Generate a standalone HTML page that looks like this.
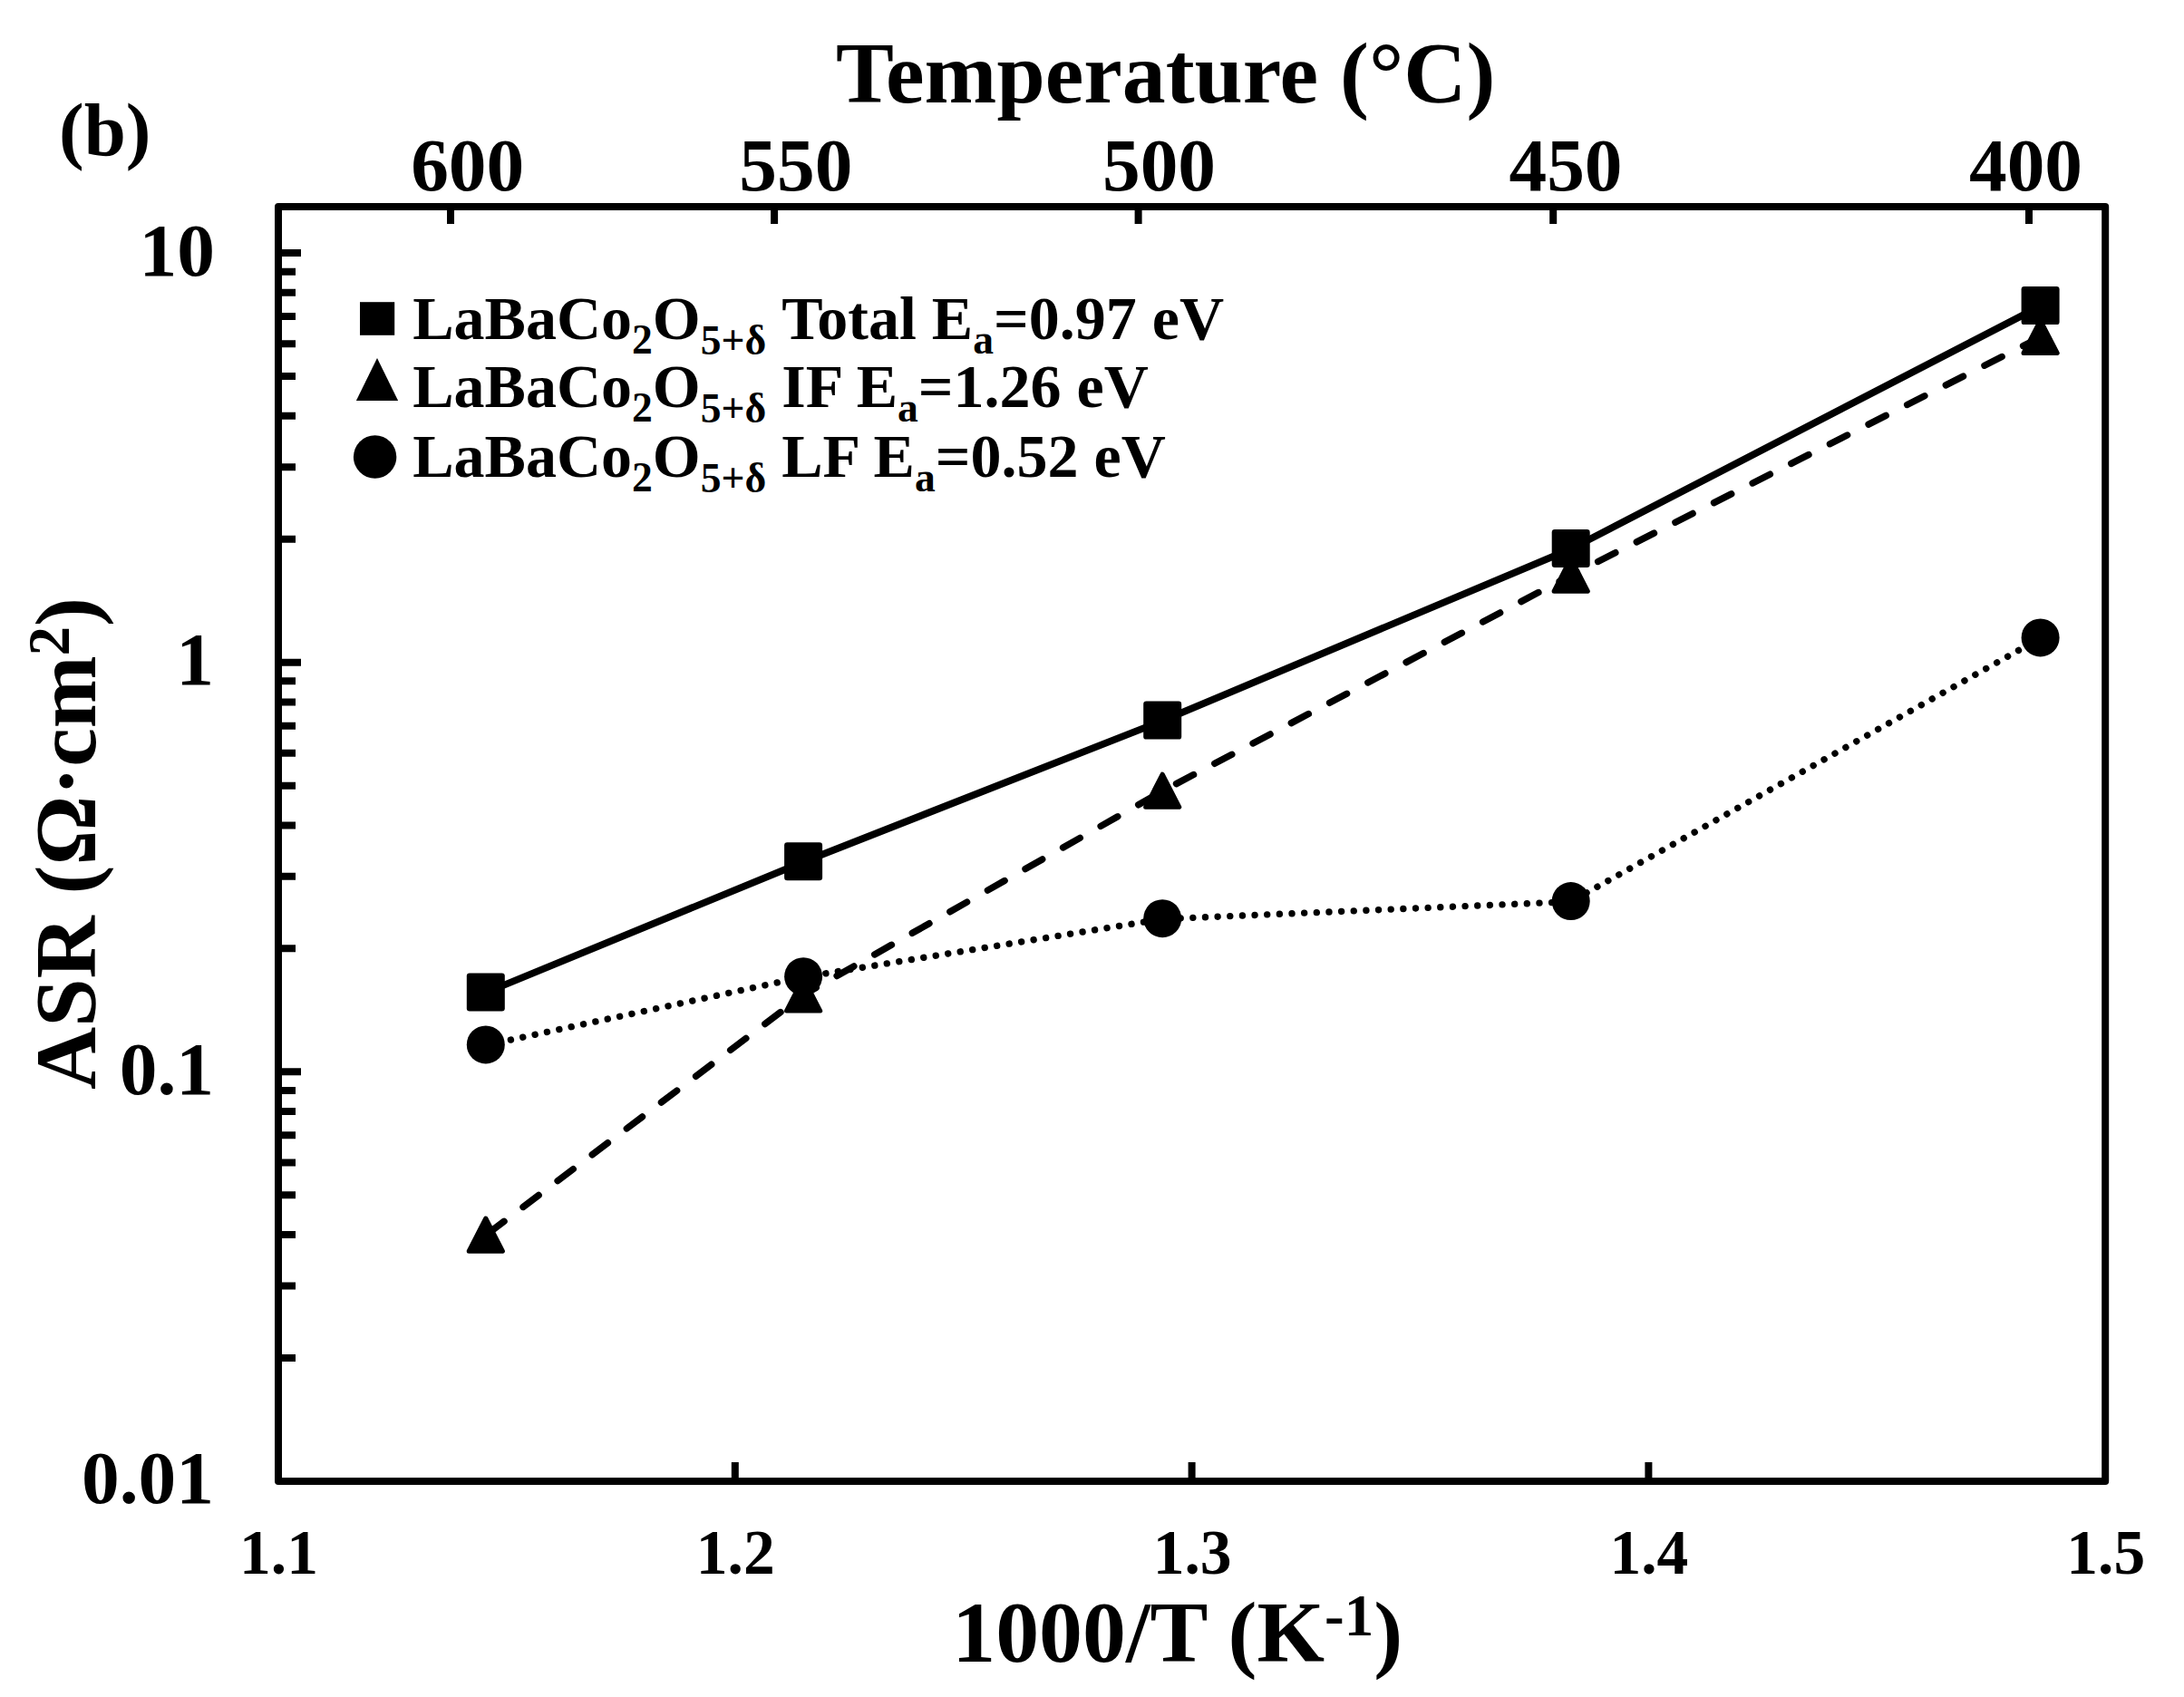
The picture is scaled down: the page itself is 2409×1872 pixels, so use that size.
<!DOCTYPE html>
<html lang="en"><head><meta charset="utf-8"><title>ASR Arrhenius plot (b)</title>
<style>
html,body{margin:0;padding:0;background:#fff;}
body{width:2409px;height:1872px;overflow:hidden;}
svg{display:block;}
text{font-family:"Liberation Serif","Times New Roman",serif;font-weight:bold;fill:#000;}
</style></head><body>
<svg width="2409" height="1872" viewBox="0 0 2409 1872">
<rect width="2409" height="1872" fill="#fff"/>

<rect x="307.0" y="227.9" width="2015.2" height="1406.1" fill="none" stroke="#000" stroke-width="8.0" stroke-linejoin="round"/>
<path d="M307.0 279.00h25.0 M307.0 299.67h19.0 M307.0 322.77h19.0 M307.0 348.96h19.0 M307.0 379.20h19.0 M307.0 414.97h19.0 M307.0 458.74h19.0 M307.0 515.17h19.0 M307.0 594.70h19.0 M307.0 730.67h25.0 M307.0 751.33h19.0 M307.0 774.44h19.0 M307.0 800.63h19.0 M307.0 830.87h19.0 M307.0 866.63h19.0 M307.0 910.40h19.0 M307.0 966.83h19.0 M307.0 1046.37h19.0 M307.0 1182.33h25.0 M307.0 1203.00h19.0 M307.0 1226.10h19.0 M307.0 1252.30h19.0 M307.0 1282.54h19.0 M307.0 1318.30h19.0 M307.0 1362.07h19.0 M307.0 1418.50h19.0 M307.0 1498.03h19.0 M497.0 227.9v19 M854.1 227.9v19 M1255.6 227.9v19 M1713.2 227.9v19 M2238.0 227.9v19 M810.80 1634.0v-21 M1314.60 1634.0v-21 M1818.40 1634.0v-21" fill="none" stroke="#000" stroke-width="8.0"/>
<g transform="translate(0.3 1.2)">
<polyline points="535.4,1093.8 885.7,949.6 1281.8,794.0 1732.3,604.4 2250.2,336.5" fill="none" stroke="#000" stroke-width="7.8" stroke-linejoin="round"/>
<polyline points="535.4,1361.5 885.7,1096.4 1281.8,871.6 1732.3,633.5 2250.2,370.8" fill="none" stroke="#000" stroke-width="7.4" stroke-linecap="round" stroke-linejoin="round" stroke-dasharray="21.5 26.3" stroke-dashoffset="-4"/>
<polyline points="535.4,1151.8 885.7,1076.6 1281.8,1012.6 1732.3,993.5 2250.2,702.8" fill="none" stroke="#000" stroke-width="7.4" stroke-linecap="round" stroke-linejoin="round" stroke-dasharray="0.01 13.65" stroke-dashoffset="-1"/>
</g>
<g transform="translate(0.4 0.6)">
<circle cx="535.4" cy="1151.8" r="21"/>
<circle cx="885.7" cy="1076.6" r="21"/>
<circle cx="1281.8" cy="1012.6" r="21"/>
<circle cx="1732.3" cy="993.5" r="21"/>
<circle cx="2250.2" cy="702.8" r="21"/>
<path d="M535.4 1343.4L554.0 1379.6H516.8Z" stroke="#000" stroke-width="5" stroke-linejoin="round"/>
<path d="M885.7 1078.3L904.3 1114.5H867.1Z" stroke="#000" stroke-width="5" stroke-linejoin="round"/>
<path d="M1281.8 853.5L1300.4 889.7H1263.2Z" stroke="#000" stroke-width="5" stroke-linejoin="round"/>
<path d="M1732.3 615.4L1750.9 651.6H1713.7Z" stroke="#000" stroke-width="5" stroke-linejoin="round"/>
<path d="M2250.2 352.7L2268.8 388.9H2231.6Z" stroke="#000" stroke-width="5" stroke-linejoin="round"/>
<rect x="514.4" y="1072.8" width="42" height="42" rx="3.2" ry="3.2"/>
<rect x="864.7" y="928.6" width="42" height="42" rx="3.2" ry="3.2"/>
<rect x="1260.8" y="773.0" width="42" height="42" rx="3.2" ry="3.2"/>
<rect x="1711.3" y="583.4" width="42" height="42" rx="3.2" ry="3.2"/>
<rect x="2229.2" y="315.5" width="42" height="42" rx="3.2" ry="3.2"/>
</g>
<rect x="397" y="333.2" width="38.2" height="36.6"/>
<path d="M416 395L439.1 441.9H392.9Z"/>
<circle cx="413.6" cy="504" r="23.7"/>
<text x="455.2" y="374.4" font-size="68">LaBaCo<tspan font-size="45.6" dy="16">2</tspan><tspan dy="-16">O</tspan><tspan font-size="45.6" dy="16.7">5+δ</tspan><tspan dy="-16.7"> Total E</tspan><tspan font-size="45.6" dy="16">a</tspan><tspan dy="-16">=0.97 eV</tspan></text>
<text x="455.2" y="449.3" font-size="68">LaBaCo<tspan font-size="45.6" dy="16">2</tspan><tspan dy="-16">O</tspan><tspan font-size="45.6" dy="16.7">5+δ</tspan><tspan dy="-16.7"> IF E</tspan><tspan font-size="45.6" dy="16">a</tspan><tspan dy="-16">=1.26 eV</tspan></text>
<text x="455.2" y="526.2" font-size="68">LaBaCo<tspan font-size="45.6" dy="16">2</tspan><tspan dy="-16">O</tspan><tspan font-size="45.6" dy="16.7">5+δ</tspan><tspan dy="-16.7"> LF E</tspan><tspan font-size="45.6" dy="16">a</tspan><tspan dy="-16">=0.52 eV</tspan></text>
<text x="515.7" y="209.9" font-size="83.4" text-anchor="middle">600</text>
<text x="877.9" y="209.9" font-size="83.4" text-anchor="middle">550</text>
<text x="1278.5" y="209.9" font-size="83.4" text-anchor="middle">500</text>
<text x="1727.0" y="209.9" font-size="83.4" text-anchor="middle">450</text>
<text x="2234.5" y="209.9" font-size="83.4" text-anchor="middle">400</text>
<text x="237" y="304.2" font-size="83.4" text-anchor="end">10</text>
<text x="236" y="754.9" font-size="83.4" text-anchor="end">1</text>
<text x="236" y="1206.5" font-size="83.4" text-anchor="end">0.1</text>
<text x="236" y="1658.2" font-size="83.4" text-anchor="end">0.01</text>
<text x="307.5" y="1735.7" font-size="69.5" text-anchor="middle">1.1</text>
<text x="811.3" y="1735.7" font-size="69.5" text-anchor="middle">1.2</text>
<text x="1315.1" y="1735.7" font-size="69.5" text-anchor="middle">1.3</text>
<text x="1818.9" y="1735.7" font-size="69.5" text-anchor="middle">1.4</text>
<text x="2322.7" y="1735.7" font-size="69.5" text-anchor="middle">1.5</text>
<text x="1285.7" y="112.5" font-size="95.8" text-anchor="middle">Temperature (°C)</text>
<text x="1050.3" y="1833" font-size="95.8">1000/T (K<tspan font-size="65" dy="-29">-1</tspan><tspan dy="29">)</tspan></text>
<text transform="translate(104.8 1202) rotate(-90)" font-size="95.8">ASR (Ω·cm<tspan font-size="65" dy="-29">2</tspan><tspan dy="29">)</tspan></text>
<text x="65" y="170.8" font-size="83">(b)</text>
</svg></body></html>
